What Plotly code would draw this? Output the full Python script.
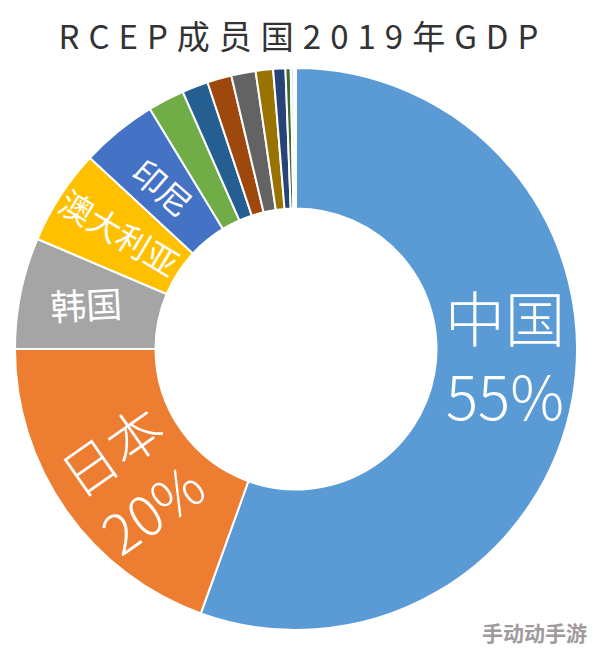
import plotly.graph_objects as go

labels = ["中国", "日本", "韩国", "澳大利亚", "印尼", "马来西亚", "泰国", "新加坡", "菲律宾", "越南", "缅甸", "柬埔寨", "文莱", "老挝"]
values = [55.5, 19.5, 6.4, 5.5, 4.4, 2.1, 1.5, 1.4, 1.4, 1.0, 0.7, 0.3, 0.2, 0.1]
colors = ["#5B9BD5", "#ED7D31", "#A5A5A5", "#FFC000", "#4472C4", "#70AD47", "#255E91", "#9E480E", "#636363", "#997300", "#264478", "#43682B", "#DCE6F2", "#FBE5D6"]

# label text, centre x px, centre y px, size, rotation, weight
slice_texts = ["中国<br>55%", "日本<br>20%", "韩国", "澳大利亚", "印尼"]
text_x = [505, 131, 86, 120, 163]
text_y = [354, 478, 303, 232, 187]
text_size = [60, 55, 36, 33, 33]
text_angle = [0, -35, -3, 31, 41]
text_weight = [300, 300, 400, 400, 400]

W, H = 594, 648
annotations = [
    dict(text=t, x=x / W, y=1 - y / H, xref="paper", yref="paper", xanchor="center", yanchor="middle",
         showarrow=False, textangle=a, font=dict(size=s, color="white", family="Noto Sans CJK SC", weight=w))
    for t, x, y, s, a, w in zip(slice_texts, text_x, text_y, text_size, text_angle, text_weight)
]
annotations.append(dict(text="<b>手动动手游</b>", x=589 / W, y=1 - 632 / H, xref="paper", yref="paper",
                        xanchor="right", yanchor="middle", showarrow=False,
                        font=dict(size=21, color="#A09A9C", family="Noto Sans CJK SC")))

fig = go.Figure(go.Pie(
    labels=labels, values=values, hole=0.5, sort=False, direction="clockwise", rotation=0,
    marker=dict(colors=colors, line=dict(color="white", width=2)),
    textinfo="none", hoverinfo="label+percent",
    domain=dict(x=[15 / W, 577 / W], y=[1 - 630 / H, 1 - 68 / H]), showlegend=False,
))
fig.update_layout(
    width=W, height=H, margin=dict(l=0, r=0, t=0, b=0), paper_bgcolor="white",
    title=dict(text="RCEP成员国2019年GDP", x=303 / W, xanchor="center", y=1 - 37 / H, yanchor="middle",
               font=dict(size=33, color="#333333", family="Noto Sans CJK SC", weight=400)),
    annotations=annotations,
)
fig.write_html("out.html", config=dict(displayModeBar=False),
               post_script="document.body.style.margin='0';document.querySelectorAll('.gtitle').forEach(e=>e.style.letterSpacing='9px');")
